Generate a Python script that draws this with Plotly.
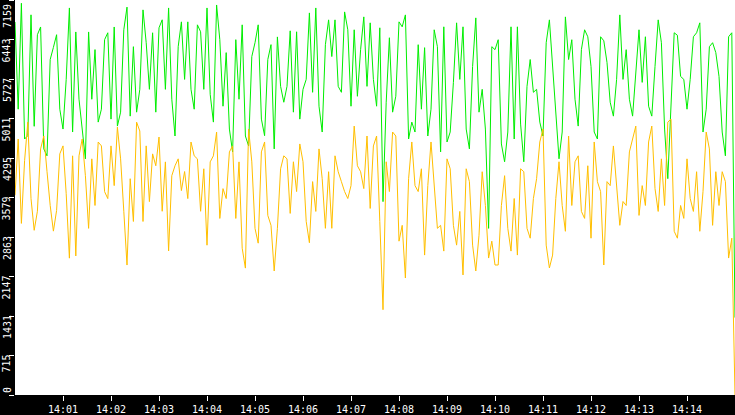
import pandas as pd
import plotly.graph_objects as go

# samples every 4 s from 14:00:00 to 14:15:00
green = [
    6760, 5180, 7100, 4640, 4700, 6890, 4870, 6530, 6670, 4460,
    4335, 6080, 6300, 6530, 5180, 4820, 5720, 7015, 4766, 6580,
    5360, 4766, 4280, 6580, 5360, 6260, 4946, 5180, 6440, 6565,
    5000, 6670, 4874, 5126, 6620, 7030, 5054, 6313, 5126, 5540,
    6980, 6385, 5540, 6565, 5126, 6655, 6800, 5540, 7015, 5360,
    4694, 6313, 6763, 5720, 6763, 5540, 5180, 6709, 6583, 5540,
    7015, 5450, 4946, 7069, 6440, 5234, 6205, 4820, 4406, 6440,
    5360, 6709, 4694, 4514, 6134, 6385,
    6709, 5000, 4700, 6080, 6350, 4460, 6490, 5594, 5306, 5594,
    6600, 5126, 6583, 5000, 5540, 5720, 6925, 5486, 7015, 5234,
    4766, 6349, 6799, 6134, 6799, 5594, 5486, 6943, 6619, 5234,
    6619, 5414, 6259, 6853, 5594, 6745, 5720, 5234, 6655, 3505,
    5306, 6475, 5126, 5414, 6763, 6673, 6889, 4640, 4946, 4766,
    6349, 5180, 6295, 4694, 5180, 6619, 6313, 4406, 6673, 4586,
    4766, 5666, 6745, 5720, 6673, 4820, 4460, 5954, 6835, 5126,
    5540, 4820, 3020, 6313, 6259,
    6439, 4550, 4227, 4766, 6673, 4640, 6673, 4910, 4227, 5594,
    6080, 5486, 5540, 4946, 4694, 6385, 6799, 5954, 5180, 4281,
    4766, 6853, 6080, 6439, 5360, 4874, 6259, 6619, 6493, 5954,
    4766, 4640, 6493, 6420, 6026, 5306, 5054, 5720, 6889, 5720,
    6259, 5360, 5054, 5846, 6619, 5666, 6493, 5234, 5054, 5954,
    6799, 6385, 4820, 3921, 5180, 6565, 6520, 5774, 5720, 5180,
    5720, 6493, 6565, 6745, 4766, 5180, 6313, 6385, 6205, 5774,
    4766, 4335, 6493, 6565, 1403,
]

yellow = [
    3620, 4640, 3110, 4250, 4946, 3560, 2985, 3330, 4460, 4695,
    4050, 3435, 2970, 3345, 4370, 4515, 3650, 2480, 4335, 2520,
    4335, 4640, 3975, 3020, 4280, 3435, 4585, 4515, 3685, 3560,
    4515, 3795, 4855, 4280, 3330, 2355, 3920, 3145, 4945, 4785,
    3145, 4515, 3505, 4370, 4155, 4675, 3330, 4225, 2610, 3975,
    4155, 4280, 3705, 4050, 3560, 4585, 4335, 4280, 3330, 4100,
    2715, 4225, 4335, 4765, 3200, 3740, 3560, 4405, 4515, 3200,
    4225, 2660, 2300, 4820, 4225, 3020,
    2752, 4406, 4586, 3255, 3075, 2248, 3021, 4100, 4335, 4280,
    3291, 4227, 3687, 4550, 4227, 3147, 2760, 3867, 3327, 4460,
    3921, 3021, 4047, 3021, 4335, 4047, 3867, 3687, 3561, 3795,
    4874, 4155, 4047, 3741, 4694, 3381, 4514, 4694, 3147, 1546,
    4227, 3687, 4766, 4694, 2788, 3075, 2120, 3921, 4586, 3795,
    3687, 4100, 2536, 3795, 4586, 3741, 3021, 3075, 2608, 4280,
    4100, 3075, 2716, 3327, 2176, 4100, 3867, 2716, 2248, 2895,
    4047, 3435, 2482, 2788, 2356,
    2356, 3435, 3975, 3021, 2608, 3561, 2536, 4100, 4047, 3021,
    2842, 3561, 3921, 4586, 4820, 2716, 2302, 2536, 3561, 4227,
    3435, 2967, 4694, 3435, 4227, 4335, 3327, 3201, 4155, 2842,
    4586, 3867, 3687, 2356, 3867, 3795, 4514, 3795, 3075, 3507,
    3435, 4406, 4640, 4874, 3255, 3795, 3435, 4586, 4874, 3741,
    3327, 4280, 3435, 4946, 5000, 2967, 2842, 3435, 3201, 4280,
    3561, 3327, 4047, 2967, 3687, 4766, 4460, 3075, 4047, 3435,
    4047, 3867, 2482, 2842, 0,
]

y_labels = [0, 715, 1431, 2147, 2863, 3579, 4295, 5011, 5727, 6443, 7159]
x_labels = ["14:01", "14:02", "14:03", "14:04", "14:05", "14:06", "14:07",
            "14:08", "14:09", "14:10", "14:11", "14:12", "14:13", "14:14"]
day = "2024-01-01"

times = pd.date_range(f"{day} 14:00:00", periods=len(green), freq="4s")

fig = go.Figure()
fig.add_trace(go.Scatter(x=times, y=green, mode="lines",
                         line=dict(color="#00ee00", width=1)))
fig.add_trace(go.Scatter(x=times, y=yellow, mode="lines",
                         line=dict(color="#ffbf00", width=1)))

# rotated y labels, drawn as annotations so they can be nudged at the ends
annotations = []
for v in y_labels:
    if v == y_labels[0]:
        anchor, shift = "bottom", 0
    elif v == y_labels[-1]:
        anchor, shift = "top", -2
    else:
        anchor, shift = "top", 3
    annotations.append(dict(
        x=0, xref="paper", xshift=-8, xanchor="center",
        y=v, yref="y", yanchor=anchor, yshift=shift,
        text=str(v), textangle=-90, showarrow=False,
        font=dict(family="DejaVu Sans Mono", size=10, color="white"),
    ))

fig.update_layout(
    width=735, height=415,
    margin=dict(l=15, r=0, t=0, b=17),
    paper_bgcolor="black",
    plot_bgcolor="white",
    showlegend=False,
    annotations=annotations,
    xaxis=dict(
        range=[f"{day} 14:00:00", f"{day} 14:15:00"],
        tickvals=[f"{day} {t}:00" for t in x_labels],
        ticktext=x_labels,
        ticks="outside", ticklen=5, tickcolor="white", tickwidth=1,
        tickfont=dict(family="DejaVu Sans Mono", size=10, color="white"),
        showgrid=False, zeroline=False, showline=False,
    ),
    yaxis=dict(
        range=[0, 7159],
        tickvals=y_labels,
        showticklabels=False,
        ticks="outside", ticklen=5, tickcolor="white", tickwidth=1,
        showgrid=False, zeroline=False, showline=False,
    ),
)

fig.write_html("out.html", config={"displayModeBar": False},
               post_script="document.body.style.margin='0';")
